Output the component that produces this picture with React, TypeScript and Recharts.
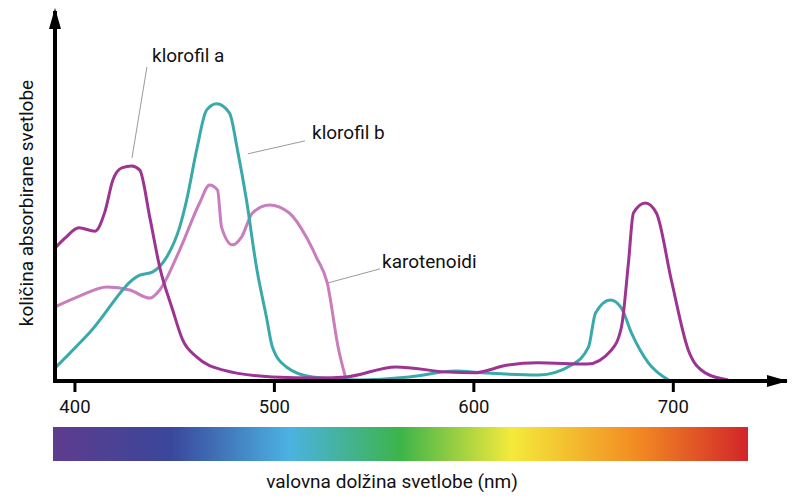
import React from 'react';
import { LineChart, Line, XAxis, YAxis, ReferenceLine } from 'recharts';

// klorofil a
const NM_A = [390, 395, 402, 410, 415, 419, 423.5, 428.5, 432.5, 437.5, 442.5, 449, 454, 461, 474, 499, 522, 536, 561, 587, 600, 617, 632, 657, 669, 674, 677.5, 680, 686, 691.5, 699, 707.5, 716, 727.5];
const ABS_A = [35.9, 38.6, 41.4, 40.5, 45.7, 54.3, 57.6, 58.1, 57, 44.3, 30.8, 19.2, 11.1, 6.5, 3, 1.1, 0.8, 1.1, 3.8, 2.4, 2.2, 4.3, 4.9, 4.6, 8.4, 14.6, 31.9, 45.4, 48.1, 45.4, 27.3, 8.4, 2.2, 0.3];

// klorofil b
const NM_B = [390, 407.5, 432.5, 439, 446, 452.5, 456, 461, 466, 471, 477.5, 481.5, 486, 491, 496, 499, 506, 519, 542.5, 567.5, 591, 604, 632.5, 649, 657.5, 661, 668.5, 674, 679, 687.5, 697.5];
const ABS_B = [3.5, 13.2, 28.6, 29.5, 33.5, 41.6, 48.9, 62.4, 73.2, 74.9, 72.4, 62.4, 48.9, 30.8, 17.3, 9.2, 3.8, 1.1, 0.3, 1.1, 2.7, 2.2, 1.6, 4.3, 9.2, 18.4, 21.9, 19.7, 13, 4.9, 0.3];

// karotenoidi
const NM_C = [390, 402.5, 416, 427.5, 437.5, 442.5, 452.5, 462.5, 467.5, 471.5, 473.5, 479, 483.5, 489, 497.5, 507.5, 516, 521, 526.5, 532, 536];
const ABS_C = [20, 23, 25.4, 24.6, 22.4, 24.6, 35.4, 48.1, 53, 51.6, 41.6, 36.8, 38.9, 45.4, 47.6, 45.4, 38.9, 33.5, 26.5, 9, 0.3];

const X_TICKS = [400, 500, 600, 700];

// leader lines for the labels (nm, absorbance)
const LEADERS = [
  [{ x: 436.1, y: 84.9 }, { x: 428.6, y: 60.3 }],
  [{ x: 515.3, y: 64.9 }, { x: 486.7, y: 61.4 }],
  [{ x: 552.9, y: 30.3 }, { x: 526.8, y: 26.5 }],
];

const zip = (nm: number[], v: number[]) => nm.map((x, i) => ({ nm: x, v: v[i] }));

const FONT = "Roboto, 'Noto Sans', sans-serif";

const App: React.FC = () => {
  return (
    <div style={{ position: 'absolute', left: 0, top: 0, width: 800, height: 503, background: '#fff', fontFamily: FONT }}>
      <LineChart width={800} height={440} margin={{ top: 11, right: 13, bottom: 19, left: 54 }}>
        <XAxis
          type="number"
          dataKey="nm"
          domain={[390, 757]}
          ticks={X_TICKS}
          allowDataOverflow
          height={40}
          axisLine={{ stroke: '#000', strokeWidth: 4 }}
          tickLine={{ stroke: '#000', strokeWidth: 3 }}
          tickSize={11}
          tickMargin={8}
          tick={{ fontSize: 18.5, fill: '#111', fontFamily: FONT }}
        />
        <YAxis
          type="number"
          domain={[0, 100]}
          width={1}
          tick={false}
          tickLine={false}
          axisLine={{ stroke: '#000', strokeWidth: 4 }}
        />
        {LEADERS.map((seg, i) => (
          <ReferenceLine key={i} segment={seg} stroke="#9a9a9a" strokeWidth={1} />
        ))}
        <Line data={zip(NM_C, ABS_C)} dataKey="v" type="monotone" stroke="#C97DBD" strokeWidth={3} dot={false} activeDot={false} isAnimationActive={false} />
        <Line data={zip(NM_B, ABS_B)} dataKey="v" type="monotone" stroke="#3AA9AC" strokeWidth={3} dot={false} activeDot={false} isAnimationActive={false} />
        <Line data={zip(NM_A, ABS_A)} dataKey="v" type="monotone" stroke="#9E3491" strokeWidth={3} dot={false} activeDot={false} isAnimationActive={false} />
      </LineChart>

      <div
        style={{
          position: 'absolute',
          left: 53,
          top: 427,
          width: 695,
          height: 34,
          background:
            'linear-gradient(to right, #5E3C8E 0%, #3A479B 17%, #4BB2E2 34%, #3DB44A 50%, #F4EA3B 66%, #F28B22 84%, #D2252A 100%)',
        }}
      />

      <svg width={800} height={503} style={{ position: 'absolute', left: 0, top: 0, pointerEvents: 'none' }}>
        <rect x={53} y={379} width={4} height={4} fill="#000" />
        <polygon points="55,8 49,29 61,29" fill="#000" />
        <polygon points="788,381 767,375 767,387" fill="#000" />
        <g fontFamily={FONT} fontSize={19} fill="#111">
          <text x={152} y={62}>klorofil a</text>
          <text x={312} y={139}>klorofil b</text>
          <text x={382} y={268}>karotenoidi</text>
          <text x={392} y={488} textAnchor="middle">valovna dolžina svetlobe (nm)</text>
          <text transform="translate(33,203) rotate(-90)" textAnchor="middle">količina absorbirane svetlobe</text>
        </g>
      </svg>
    </div>
  );
};

export default App;
